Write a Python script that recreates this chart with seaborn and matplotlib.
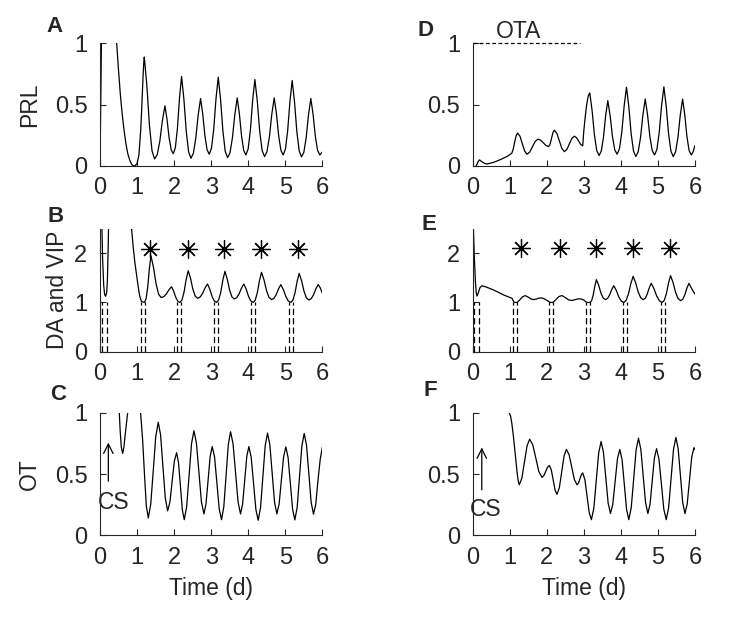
import matplotlib
matplotlib.use("Agg")
import matplotlib.pyplot as plt
import seaborn as sns

# values (time in days)
prl_t = [0, 0.02, 0.05, 0.1, 0.3, 0.4, 0.45, 0.5, 0.55, 0.6, 0.65, 0.7, 0.75, 0.8, 0.85, 0.9,
         0.95, 1.0, 1.05, 1.1, 1.13, 1.16, 1.18, 1.195,
         1.265, 1.334, 1.404, 1.473, 1.543, 1.613, 1.683, 1.752, 1.808, 1.865, 1.921, 1.977,
         2.033, 2.089, 2.145, 2.201, 2.264, 2.327, 2.39, 2.453, 2.518, 2.583, 2.648, 2.713,
         2.772, 2.83, 2.889, 2.947, 3.008, 3.069, 3.129, 3.19, 3.253, 3.316, 3.378, 3.441,
         3.506, 3.572, 3.637, 3.702, 3.76, 3.819, 3.877, 3.935, 3.996, 4.057, 4.117, 4.178,
         4.243, 4.308, 4.373, 4.438, 4.503, 4.569, 4.634, 4.699, 4.76, 4.821, 4.881, 4.942,
         5.003, 5.063, 5.124, 5.184, 5.247, 5.31, 5.373, 5.436, 5.499, 5.562, 5.624, 5.687,
         5.748, 5.809, 5.869, 5.93, 6.0]
prl_y = [0, 0.5, 1.3, 2.0, 2.0, 1.3, 1.0, 0.78, 0.58, 0.42, 0.29, 0.18, 0.1, 0.05, 0.015, 0.0,
         0.003, 0.02, 0.09, 0.30, 0.50, 0.72, 0.84, 0.888,
         0.655, 0.331, 0.123, 0.057, 0.092, 0.200, 0.369, 0.49, 0.381, 0.229, 0.131, 0.10,
         0.150, 0.308, 0.554, 0.73, 0.543, 0.283, 0.116, 0.063, 0.102, 0.224, 0.414, 0.55,
         0.423, 0.246, 0.132, 0.096, 0.146, 0.303, 0.548, 0.724, 0.540, 0.284, 0.120, 0.068,
         0.107, 0.229, 0.419, 0.555, 0.425, 0.243, 0.127, 0.09, 0.139, 0.293, 0.533, 0.705,
         0.529, 0.284, 0.127, 0.077, 0.115, 0.235, 0.421, 0.555, 0.425, 0.243, 0.127, 0.09,
         0.139, 0.290, 0.527, 0.697, 0.523, 0.280, 0.124, 0.074, 0.112, 0.231, 0.417, 0.55,
         0.421, 0.242, 0.127, 0.09, 0.115]

prl_ota_t = [0.1, 0.15, 0.19, 0.25, 0.32, 0.39, 0.57, 0.75, 0.93, 1.06, 1.1, 1.14, 1.18, 1.216,
             1.28, 1.343, 1.407, 1.47, 1.544, 1.618, 1.692, 1.766, 1.838, 1.91, 1.982, 2.054,
             2.092, 2.131, 2.169, 2.207, 2.275, 2.342, 2.41, 2.477, 2.545, 2.613, 2.68, 2.748,
             2.804, 2.861, 2.917, 2.973, 3.0, 3.04, 3.08, 3.12, 3.162,
             3.225, 3.288, 3.351, 3.414, 3.473, 3.532, 3.59, 3.649, 3.712, 3.775, 3.837, 3.9,
             3.963, 4.027, 4.09, 4.153, 4.216, 4.279, 4.342, 4.405, 4.468, 4.532, 4.595, 4.658,
             4.721, 4.784, 4.847, 4.91, 4.973, 5.036, 5.099, 5.162, 5.225, 5.288, 5.351, 5.414,
             5.477, 5.541, 5.604, 5.667, 5.725, 5.784, 5.842, 5.9, 5.95, 6.0]
prl_ota_y = [0.0, 0.035, 0.05, 0.035, 0.022, 0.016, 0.03, 0.052, 0.077, 0.104, 0.14, 0.2, 0.25,
             0.268, 0.243, 0.182, 0.121, 0.096, 0.114, 0.158, 0.201, 0.219, 0.210, 0.189,
             0.167, 0.158, 0.178, 0.225, 0.272, 0.292, 0.266, 0.205, 0.143, 0.117, 0.135, 0.18,
             0.225, 0.243, 0.231, 0.204, 0.176, 0.164, 0.28, 0.40, 0.50, 0.57, 0.596,
             0.453, 0.254, 0.126, 0.085, 0.121, 0.233, 0.408, 0.533, 0.411, 0.240, 0.131, 0.096,
             0.140, 0.276, 0.489, 0.642, 0.484, 0.263, 0.122, 0.077, 0.115, 0.232, 0.415, 0.546,
             0.418, 0.240, 0.126, 0.09, 0.134, 0.273, 0.490, 0.645, 0.486, 0.264, 0.122, 0.077,
             0.115, 0.232, 0.415, 0.546, 0.418, 0.240, 0.126, 0.09, 0.115, 0.167]

da_t = [0.05, 0.07, 0.1, 0.125, 0.153, 0.18, 0.2, 0.22, 0.235, 0.5, 0.85, 0.9, 0.94, 0.98, 1.015,
        1.05, 1.08, 1.12, 1.2, 1.244, 1.288, 1.331, 1.375, 1.444, 1.513, 1.581, 1.65, 1.72, 1.79,
        1.86, 1.93, 1.987, 2.043, 2.1, 2.156, 2.212, 2.268, 2.324, 2.38, 2.443, 2.505, 2.568,
        2.63, 2.698, 2.765, 2.833, 2.9, 2.961, 3.023, 3.084, 3.145, 3.201, 3.258, 3.314, 3.37,
        3.433, 3.495, 3.558, 3.62, 3.685, 3.75, 3.815, 3.88, 3.943, 4.007, 4.07, 4.133, 4.189,
        4.245, 4.301, 4.357, 4.425, 4.492, 4.56, 4.627, 4.69, 4.753, 4.816, 4.879, 4.946, 5.014,
        5.081, 5.148, 5.204, 5.261, 5.317, 5.373, 5.438, 5.503, 5.568, 5.633, 5.696, 5.759,
        5.822, 5.885, 5.94, 6.0]
da_y = [2.6, 1.9, 1.35, 1.16, 1.125, 1.2, 1.45, 2.1, 2.7, 3.2, 2.52, 2.1, 1.82, 1.6, 1.41,
        1.22, 1.105, 1.02, 1.0, 1.076, 1.314, 1.684, 1.95, 1.712, 1.381, 1.168, 1.10, 1.118,
        1.173, 1.258, 1.32, 1.230, 1.106, 1.026, 1.0, 1.052, 1.214, 1.466, 1.647, 1.490, 1.270,
        1.13, 1.085, 1.108, 1.181, 1.295, 1.376, 1.271, 1.124, 1.030, 1.0, 1.051, 1.209, 1.456,
        1.634, 1.476, 1.256, 1.115, 1.07, 1.094, 1.171, 1.29, 1.376, 1.271, 1.124, 1.030, 1.0,
        1.049, 1.203, 1.442, 1.614, 1.458, 1.241, 1.102, 1.058, 1.082, 1.159, 1.278, 1.363,
        1.261, 1.120, 1.029, 1.0, 1.047, 1.196, 1.427, 1.593, 1.441, 1.230, 1.094, 1.051, 1.076,
        1.154, 1.276, 1.363, 1.30, 1.186]
da_dash_t = [0.063, 0.198, 1.096, 1.213, 2.075, 2.183, 3.073, 3.18, 4.07, 4.187, 5.085, 5.202]
da_star_t = [1.35, 2.38, 3.35, 4.34, 5.35]

da_ota_t = [0.02, 0.05, 0.08, 0.1, 0.12, 0.15, 0.2, 0.25, 0.35, 0.57, 0.84, 1.063, 1.1, 1.126,
            1.2, 1.26, 1.34, 1.42, 1.5, 1.58, 1.65, 1.72, 1.8, 1.88, 1.95, 2.03, 2.1, 2.17, 2.24,
            2.33, 2.414, 2.5, 2.6, 2.685, 2.78, 2.86, 2.93, 3.0, 3.06, 3.108, 3.17, 3.213, 3.256,
            3.299, 3.342, 3.403, 3.464, 3.525, 3.586, 3.642, 3.698, 3.754, 3.81, 3.878, 3.946,
            4.013, 4.081, 4.144, 4.207, 4.27, 4.333, 4.401, 4.469, 4.536, 4.604, 4.658, 4.712,
            4.766, 4.82, 4.894, 4.969, 5.043, 5.117, 5.173, 5.23, 5.286, 5.342, 5.41, 5.478,
            5.545, 5.613, 5.669, 5.726, 5.782, 5.838, 5.9, 5.95, 6.0]
da_ota_y = [2.6, 1.9, 1.4, 1.2, 1.13, 1.18, 1.3, 1.34, 1.32, 1.254, 1.153, 1.085, 1.03, 1.0,
            1.0, 1.04, 1.11, 1.14, 1.11, 1.07, 1.058, 1.07, 1.09, 1.09, 1.07, 1.03, 1.0, 1.0,
            1.05, 1.12, 1.14, 1.10, 1.05, 1.04, 1.06, 1.075, 1.07, 1.05, 1.01, 1.0, 1.0, 1.037,
            1.153, 1.334, 1.464, 1.350, 1.192, 1.090, 1.058, 1.081, 1.152, 1.262, 1.342, 1.246,
            1.113, 1.027, 1.0, 1.043, 1.176, 1.383, 1.532, 1.399, 1.214, 1.096, 1.058, 1.085,
            1.168, 1.297, 1.39, 1.281, 1.129, 1.031, 1.0, 1.044, 1.180, 1.393, 1.546, 1.404,
            1.205, 1.078, 1.037, 1.065, 1.153, 1.291, 1.39, 1.30, 1.23, 1.173]
da_ota_dash_t = [0.045, 0.18, 1.081, 1.198, 2.063, 2.171, 3.063, 3.171, 4.063, 4.18, 5.081, 5.198]
da_ota_star_t = [1.32, 2.35, 3.34, 4.33, 5.34]

ot_t = [0.3, 0.45, 0.521, 0.545, 0.575, 0.611, 0.645, 0.69, 0.746, 0.8, 0.95, 1.05, 1.096,
        1.15, 1.2, 1.25, 1.303, 1.37, 1.438, 1.505, 1.572, 1.635, 1.698, 1.761, 1.824, 1.885,
        1.945, 2.006, 2.066, 2.118, 2.17, 2.221, 2.273, 2.338, 2.404, 2.469, 2.534, 2.601,
        2.669, 2.736, 2.803, 2.859, 2.916, 2.972, 3.028, 3.091, 3.154, 3.216, 3.279, 3.34,
        3.401, 3.461, 3.522, 3.589, 3.657, 3.724, 3.791, 3.847, 3.904, 3.96, 4.016, 4.079,
        4.142, 4.205, 4.268, 4.331, 4.394, 4.456, 4.519, 4.582, 4.645, 4.708, 4.771, 4.832,
        4.892, 4.953, 5.013, 5.074, 5.135, 5.195, 5.256, 5.319, 5.382, 5.445, 5.508, 5.571,
        5.634, 5.696, 5.759, 5.82, 5.88, 5.94, 6.0]
ot_y = [1.5, 1.2, 1.0, 0.85, 0.72, 0.669, 0.72, 0.85, 1.0, 1.2, 1.3, 1.15, 1.0,
        0.78, 0.5, 0.24, 0.143, 0.257, 0.533, 0.809, 0.923, 0.818, 0.562, 0.306, 0.201, 0.270,
        0.438, 0.606, 0.675, 0.595, 0.402, 0.209, 0.129, 0.235, 0.492, 0.748, 0.854, 0.755,
        0.515, 0.275, 0.176, 0.256, 0.451, 0.645, 0.725, 0.638, 0.427, 0.216, 0.129, 0.234,
        0.488, 0.741, 0.846, 0.748, 0.511, 0.274, 0.176, 0.256, 0.451, 0.645, 0.725, 0.637,
        0.425, 0.212, 0.124, 0.228, 0.480, 0.731, 0.835, 0.739, 0.506, 0.272, 0.176, 0.256,
        0.449, 0.642, 0.722, 0.635, 0.425, 0.214, 0.127, 0.230, 0.480, 0.729, 0.832, 0.736,
        0.503, 0.270, 0.174, 0.254, 0.448, 0.62, 0.722]

ot_ota_t = [0.99, 1.03, 1.063, 1.11, 1.153, 1.2, 1.235, 1.261, 1.331, 1.401, 1.471, 1.541,
            1.624, 1.708, 1.791, 1.874, 1.924, 1.973, 2.023, 2.072, 2.124, 2.176, 2.227, 2.279,
            2.342, 2.406, 2.469, 2.532, 2.604, 2.676, 2.748, 2.82, 2.858, 2.897, 2.935, 2.973,
            3.032, 3.09, 3.149, 3.207, 3.272, 3.338, 3.403, 3.468, 3.531, 3.595, 3.658, 3.721,
            3.784, 3.847, 3.91, 3.973, 4.034, 4.095, 4.155, 4.216, 4.281, 4.347, 4.412, 4.477,
            4.54, 4.604, 4.667, 4.73, 4.789, 4.847, 4.906, 4.964, 5.029, 5.095, 5.16, 5.225,
            5.29, 5.356, 5.421, 5.486, 5.547, 5.608, 5.669, 5.73, 5.791, 5.852, 5.912, 5.973, 6.0]
ot_ota_y = [1.0, 0.97, 0.909, 0.79, 0.661, 0.52, 0.44, 0.413, 0.467, 0.599, 0.731, 0.785,
            0.740, 0.630, 0.519, 0.474, 0.488, 0.522, 0.556, 0.57, 0.536, 0.453, 0.370, 0.336,
            0.389, 0.519, 0.649, 0.702, 0.660, 0.558, 0.455, 0.413, 0.427, 0.462, 0.496, 0.51,
            0.454, 0.320, 0.185, 0.129, 0.222, 0.448, 0.673, 0.766, 0.680, 0.473, 0.265, 0.179,
            0.255, 0.441, 0.626, 0.702, 0.618, 0.416, 0.213, 0.129, 0.226, 0.461, 0.696, 0.793,
            0.703, 0.486, 0.269, 0.179, 0.256, 0.444, 0.631, 0.708, 0.623, 0.419, 0.214, 0.129,
            0.227, 0.464, 0.701, 0.799, 0.708, 0.489, 0.270, 0.179, 0.257, 0.448, 0.638, 0.716, 0.70]

x_ticks = [0, 1, 2, 3, 4, 5, 6]
frac_ticks = [0, 0.5, 1]
frac_labels = ["0", "0.5", "1"]
da_ticks = [0, 1, 2]
da_labels = ["0", "1", "2"]

sns.set_style("ticks")
plt.rcParams["font.family"] = ["Liberation Sans", "DejaVu Sans"]
plt.rcParams["font.size"] = 17
plt.rcParams["xtick.direction"] = "in"
plt.rcParams["ytick.direction"] = "in"
plt.rcParams["xtick.major.size"] = 4.3
plt.rcParams["ytick.major.size"] = 4.3
plt.rcParams["xtick.major.width"] = 0.8
plt.rcParams["ytick.major.width"] = 0.8
plt.rcParams["xtick.major.pad"] = 8
plt.rcParams["ytick.major.pad"] = 9
plt.rcParams["axes.linewidth"] = 0.8

fig = plt.figure(figsize=(7.39, 6.18), dpi=100)

col_x = [0.1353, 0.6394]
col_w = 0.3010
row_b = [0.7314, 0.4312, 0.1335]
row_h = 0.1985
lab_fs = 16.5


def make_axes(col, row, ymax, yticks, ylabels):
    ax = fig.add_axes([col_x[col], row_b[row], col_w, row_h])
    ax.set_xlim(0, 6)
    ax.set_ylim(0, ymax)
    ax.set_xticks(x_ticks)
    ax.set_yticks(yticks)
    ax.set_yticklabels(ylabels)
    ax.tick_params(labelsize=17)
    sns.despine(ax=ax)
    return ax


def draw_curve(ax, t, y):
    sns.lineplot(x=t, y=y, ax=ax, color="black", linewidth=0.9,
                 estimator=None, sort=False)
    ax.set_xlabel("")
    ax.set_ylabel("")


# A: PRL
axA = make_axes(0, 0, 1, frac_ticks, frac_labels)
draw_curve(axA, prl_t, prl_y)
axA.set_ylabel("PRL", fontsize=lab_fs, labelpad=10)

# D: PRL with OTA
axD = make_axes(1, 0, 1, frac_ticks, frac_labels)
draw_curve(axD, prl_ota_t, prl_ota_y)
axD.plot([0, 2.9], [1, 1], color="black", lw=0.9, ls=(0, (3, 2)), clip_on=False)
axD.text(1.25, 1.1, "OTA", ha="center", va="center", fontsize=lab_fs)

# B: DA and VIP
axB = make_axes(0, 1, 2.5, da_ticks, da_labels)
draw_curve(axB, da_t, da_y)
axB.vlines(da_dash_t, 0, 1, colors="black", linewidth=0.9, linestyles=[(0, (5, 2.5))])
axB.plot(da_star_t, [2.09] * len(da_star_t), ls="none", marker=(8, 2, 0),
         ms=13, mec="black", mew=0.9)
axB.set_ylabel("DA and VIP", fontsize=lab_fs, labelpad=4)

# E: DA and VIP with OTA
axE = make_axes(1, 1, 2.5, da_ticks, da_labels)
draw_curve(axE, da_ota_t, da_ota_y)
axE.vlines(da_ota_dash_t, 0, 1, colors="black", linewidth=0.9, linestyles=[(0, (5, 2.5))])
axE.plot(da_ota_star_t, [2.1] * len(da_ota_star_t), ls="none", marker=(8, 2, 0),
         ms=13, mec="black", mew=0.9)

# C: OT
axC = make_axes(0, 2, 1, frac_ticks, frac_labels)
draw_curve(axC, ot_t, ot_y)
axC.annotate("", xy=(0.225, 0.78), xytext=(0.225, 0.42),
             arrowprops=dict(arrowstyle="->", lw=0.9, color="black"))
axC.text(0.36, 0.27, "CS", ha="center", va="center", fontsize=lab_fs)
axC.set_ylabel("OT", fontsize=lab_fs, labelpad=10)
axC.set_xlabel("Time (d)", fontsize=lab_fs, labelpad=6)

# F: OT with OTA
axF = make_axes(1, 2, 1, frac_ticks, frac_labels)
draw_curve(axF, ot_ota_t, ot_ota_y)
axF.annotate("", xy=(0.25, 0.74), xytext=(0.25, 0.35),
             arrowprops=dict(arrowstyle="->", lw=0.9, color="black"))
axF.text(0.36, 0.21, "CS", ha="center", va="center", fontsize=lab_fs)
axF.set_xlabel("Time (d)", fontsize=lab_fs, labelpad=6)

# panel letters
for letter, px, py in [("A", 55, 26), ("D", 425, 31), ("B", 56, 216),
                       ("E", 429, 224), ("C", 58, 394), ("F", 430, 390)]:
    fig.text(px / 739, 1 - py / 618, letter, ha="center", va="center",
             fontsize=16, fontweight="bold")

fig.savefig("out.png", dpi=100)
